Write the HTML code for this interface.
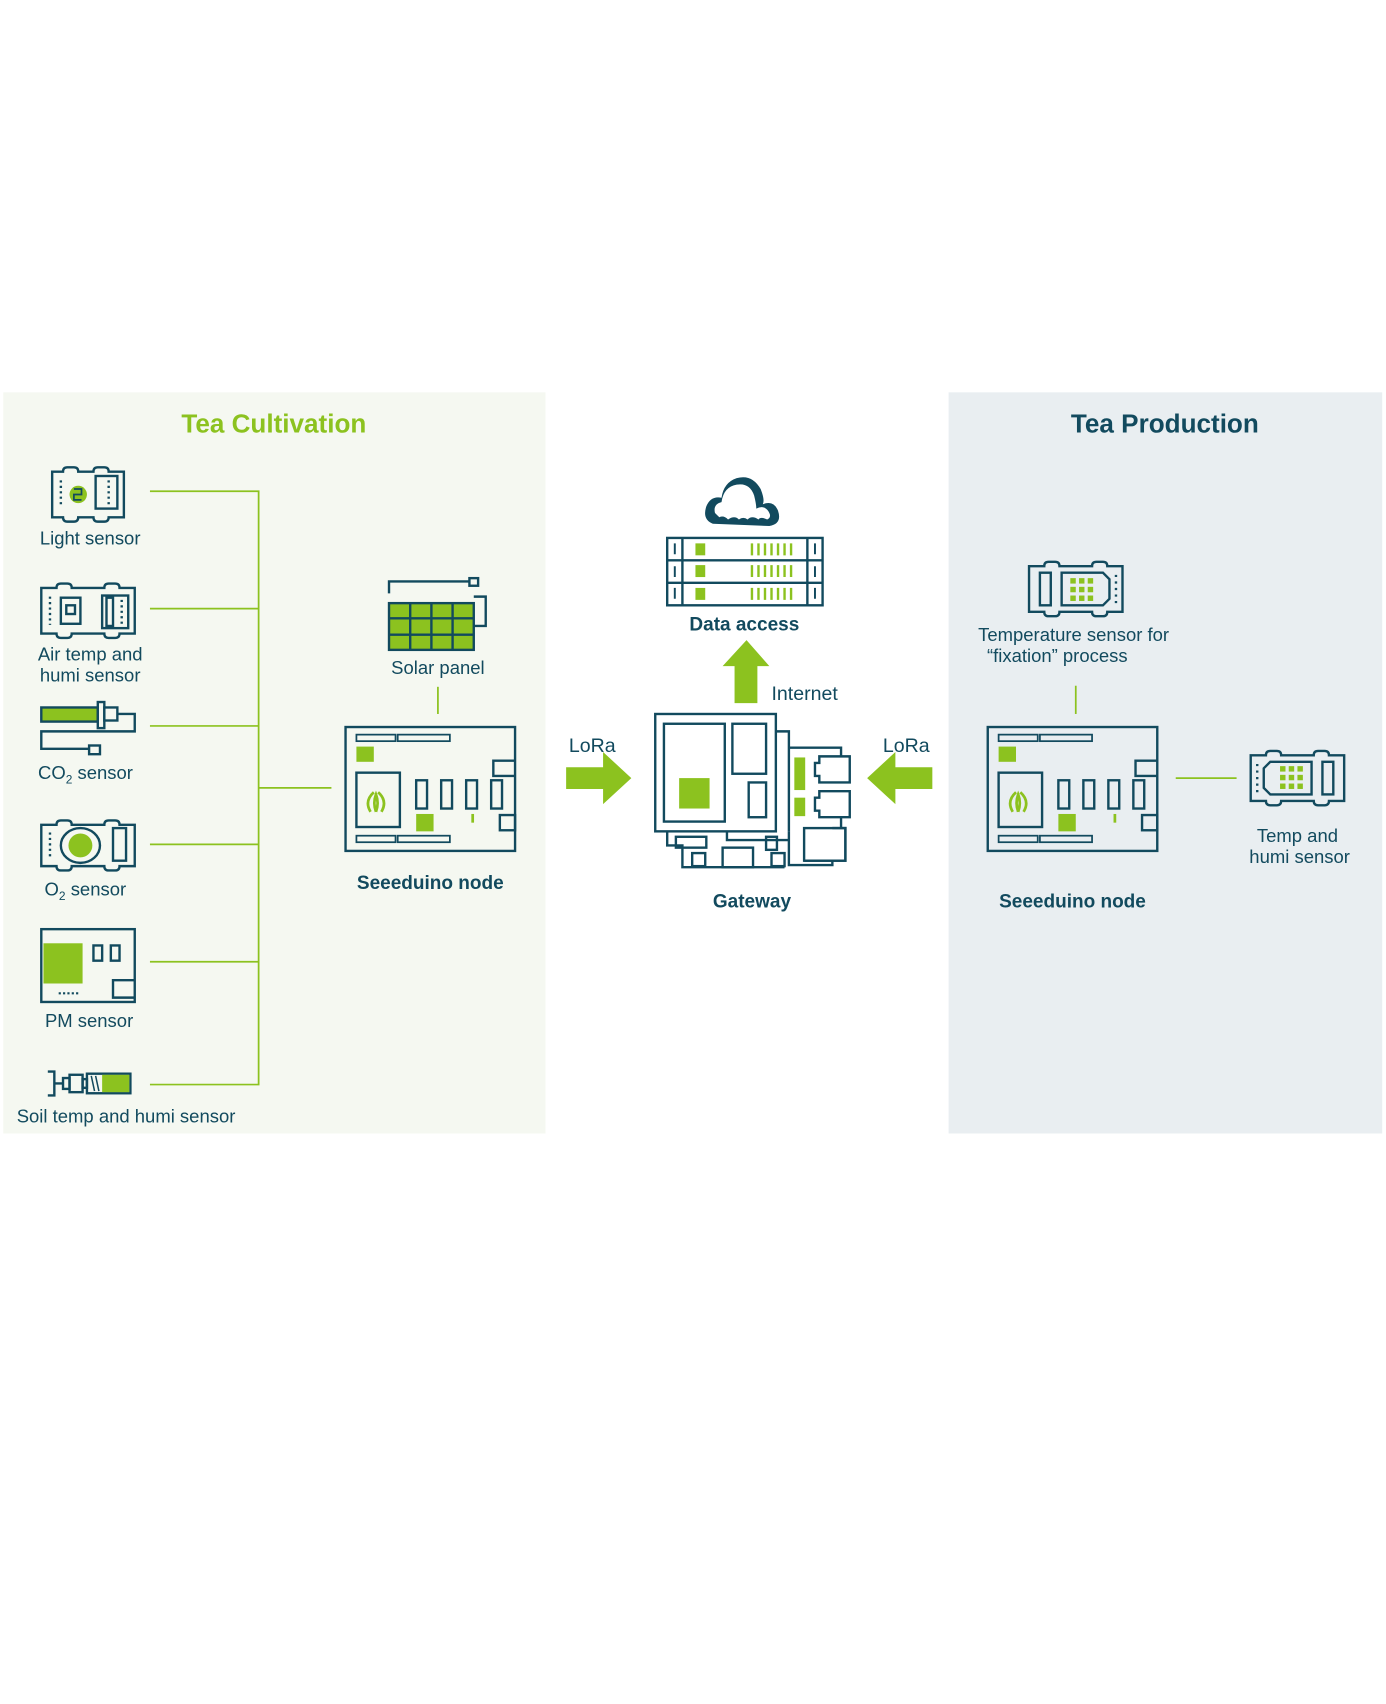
<!DOCTYPE html>
<html><head><meta charset="utf-8"><style>
html,body{margin:0;padding:0;background:#fff;}
svg{display:block;}
text{font-family:"Liberation Sans",sans-serif;}
</style></head><body>
<svg width="1386" height="1704" viewBox="0 0 1275.5 1568" preserveAspectRatio="none" xmlns="http://www.w3.org/2000/svg">
<defs>
<g id="node" fill="none" stroke="#124a5e" stroke-width="2.2">
  <rect x="0" y="0" width="156" height="114"/>
  <rect x="10" y="7" width="36" height="6" stroke-width="1.6"/>
  <rect x="48" y="7" width="48" height="6" stroke-width="1.6"/>
  <rect x="10" y="100" width="36" height="6" stroke-width="1.6"/>
  <rect x="48" y="100" width="48" height="6" stroke-width="1.6"/>
  <rect x="10" y="18" width="16" height="14" fill="#8cc21f" stroke="none"/>
  <rect x="10" y="42" width="40" height="50"/>
  <path d="M23 78 q-6 -10 3 -18 M33 78 q6 -10 -3 -18 M28 78 q-3 -8 0 -16 q3 8 0 16" stroke="#8cc21f" stroke-width="2.5"/>
  <rect x="65" y="49" width="10" height="26"/><rect x="88" y="49" width="10" height="26"/>
  <rect x="111" y="49" width="10" height="26"/><rect x="134" y="49" width="10" height="26"/>
  <rect x="65" y="80" width="16" height="16" fill="#8cc21f" stroke="none"/>
  <line x1="117" y1="80" x2="117" y2="88" stroke="#8cc21f" stroke-width="2.5"/>
  <path d="M156 31 h-20 v14 h20"/>
  <rect x="142" y="81" width="14" height="14"/>
</g>
<g id="sensorT" fill="none" stroke="#124a5e" stroke-width="2.2">
  <path d="M0 4 h14 q0 -4 4 -4 h6 q4 0 4 4 h30 q0 -4 4 -4 h6 q4 0 4 4 h14 v42 h-14 q0 4 -4 4 h-6 q-4 0 -4 -4 h-30 q0 4 -4 4 h-6 q-4 0 -4 -4 h-14z"/>
  <rect x="10" y="10" width="10" height="30"/>
  <path d="M30 10 h38 l6 6 v18 l-6 6 h-38z"/>
  <g fill="#8cc21f" stroke="none">
    <rect x="38" y="15" width="5" height="5"/><rect x="46" y="15" width="5" height="5"/><rect x="54" y="15" width="5" height="5"/>
    <rect x="38" y="23" width="5" height="5"/><rect x="46" y="23" width="5" height="5"/><rect x="54" y="23" width="5" height="5"/>
    <rect x="38" y="31" width="5" height="5"/><rect x="46" y="31" width="5" height="5"/><rect x="54" y="31" width="5" height="5"/>
  </g>
  <path d="M80 12 v26" stroke-dasharray="2 4"/>
</g>
</defs>

<rect x="3" y="361" width="499" height="682" fill="#f5f8f1"/>
<rect x="873" y="361" width="399" height="682" fill="#e9eef1"/>
<text x="252" y="398" font-size="24" font-weight="bold" fill="#8cc21f" text-anchor="middle">Tea Cultivation</text>
<text x="1072" y="398" font-size="24" font-weight="bold" fill="#124a5e" text-anchor="middle">Tea Production</text>

<g stroke="#8cc21f" stroke-width="1.6" fill="none">
  <path d="M138 452 H238 V998 H138"/>
  <path d="M138 560 H238 M138 668 H238 M138 777 H238 M138 885 H238 M238 725 H305"/>
  <path d="M403 632 V657"/>
  <path d="M990 631 V657"/>
  <path d="M1082 716 H1138"/>
</g>

<g fill="none" stroke="#124a5e" stroke-width="2.2">
<path d="M48 434 h10 q0 -4 4 -4 h6 q4 0 4 4 h14 q0 -4 4 -4 h6 q4 0 4 4 h14 v42 h-14 q0 4 -4 4 h-6 q-4 0 -4 -4 h-14 q0 4 -4 4 h-6 q-4 0 -4 -4 h-10z"/>
<rect x="88" y="438" width="20" height="30"/>
<circle cx="72" cy="455" r="8" fill="#8cc21f" stroke="none"/>
<path d="M68 450 h7 v5 h-7 v5 h7" stroke-width="1.6"/>
<path d="M56 442 v24 M100 442 v24" stroke-dasharray="2 3"/>
<path d="M38 541 h14 q0 -4 4 -4 h6 q4 0 4 4 h30 q0 -4 4 -4 h6 q4 0 4 4 h14 v42 h-14 q0 4 -4 4 h-6 q-4 0 -4 -4 h-30 q0 4 -4 4 h-6 q-4 0 -4 -4 h-14z"/>
<rect x="56" y="550" width="18" height="24"/><rect x="61" y="557" width="8" height="8"/>
<rect x="94" y="548" width="24" height="30"/><rect x="98" y="550" width="6" height="26"/>
<path d="M46 549 v26 M112 552 v24" stroke-dasharray="2 3"/>
<rect x="38" y="651" width="52" height="13" fill="#8cc21f"/>
<rect x="90" y="646" width="6" height="24"/>
<rect x="96" y="651" width="12" height="12"/>
<path d="M108 657 h16 v16 h-86 v16 h44"/>
<rect x="82" y="686" width="10" height="8"/>
<path d="M38 759 h14 q0 -4 4 -4 h6 q4 0 4 4 h30 q0 -4 4 -4 h6 q4 0 4 4 h14 v38 h-14 q0 4 -4 4 h-6 q-4 0 -4 -4 h-30 q0 4 -4 4 h-6 q-4 0 -4 -4 h-14z"/>
<ellipse cx="74" cy="778" rx="18" ry="16"/>
<circle cx="74" cy="778" r="11" fill="#8cc21f" stroke="none"/>
<rect x="104" y="762" width="12" height="30"/>
<path d="M46 766 v24" stroke-dasharray="2 3"/>
<rect x="38" y="855" width="86" height="67"/>
<rect x="40" y="868" width="36" height="37" fill="#8cc21f" stroke="none"/>
<rect x="86" y="870" width="8" height="14"/><rect x="102" y="870" width="8" height="14"/>
<path d="M124 902 h-20 v16 h20"/>
<path d="M54 914 h20" stroke-dasharray="2 2" stroke-width="2"/>
<path d="M44 986 h6 v22 h-6 M50 997 h8"/>
<rect x="58" y="992" width="6" height="10"/><rect x="64" y="989" width="12" height="16"/>
<rect x="76" y="993" width="4" height="8"/>
<rect x="80" y="988" width="40" height="18"/>
<rect x="94" y="989" width="25" height="16" fill="#8cc21f" stroke="none"/>
<path d="M84 990 l3 14 M88 990 l3 14" stroke-width="1.4"/>
<path d="M358 546 v-11 h74 M436 549 h11 v27 h-11"/>
<rect x="432" y="532" width="8" height="7"/>
<rect x="358" y="555" width="78" height="43" fill="#8cc21f"/>
<path d="M377.5 555 v43 M397 555 v43 M416.5 555 v43 M358 569 h78 M358 584 h78"/>
</g>

<g fill="#124a5e" font-size="17">
<text x="83" y="501" text-anchor="middle">Light sensor</text>
<text x="83" y="608" text-anchor="middle">Air temp and</text>
<text x="83" y="627" text-anchor="middle">humi sensor</text>
<text x="35" y="717">CO<tspan font-size="11" dy="4">2</tspan><tspan dy="-4">  sensor</tspan></text>
<text x="41" y="824">O<tspan font-size="11" dy="4">2</tspan><tspan dy="-4"> sensor</tspan></text>
<text x="82" y="945" text-anchor="middle">PM sensor</text>
<text x="116" y="1033" text-anchor="middle">Soil temp and humi sensor</text>
<text x="403" y="620" text-anchor="middle">Solar panel</text>
<text x="545" y="692" text-anchor="middle" font-size="18">LoRa</text>
<text x="834" y="692" text-anchor="middle" font-size="18">LoRa</text>
<text x="710" y="644" font-size="18">Internet</text>
<text x="988" y="590" text-anchor="middle">Temperature sensor for</text>
<text x="973" y="609" text-anchor="middle">“fixation”   process</text>
<text x="1194" y="775" text-anchor="middle">Temp and</text>
<text x="1196" y="794" text-anchor="middle">humi sensor</text>
</g>
<g fill="#124a5e" font-size="17.5" font-weight="bold" text-anchor="middle">
<text x="396" y="818">Seeeduino node</text>
<text x="987" y="835">Seeeduino node</text>
<text x="692" y="835">Gateway</text>
<text x="685" y="580">Data access</text>
</g>

<use href="#node" transform="translate(318,669)"/>
<use href="#node" transform="translate(909,669)"/>
<use href="#sensorT" transform="translate(947,517)"/>
<use href="#sensorT" transform="translate(1237,741) rotate(180)"/>

<path d="M521 706 h34 v-14 l26 24 l-26 24 v-14 h-34z" fill="#8cc21f"/>
<path d="M858 706 h-34 v-14 l-26 24 l26 24 v-14 h34z" fill="#8cc21f"/>
<path d="M676 647 v-34 h-11 l22 -24 l21 24 h-11 v34z" fill="#8cc21f"/>

<path d="M656 482 q-10 -4 -6 -16 q4 -10 14 -8 q2 -14 14 -18 q14 -4 22 10 q4 10 2 14 q10 -4 14 6 q4 12 -8 14 z" fill="#124a5e"/>
<path d="M658 472 q-2 -8 6 -10 q2 -14 14 -16 q12 -2 16 10 q2 8 2 12 q8 -4 12 4 q2 4 -2 6 q-6 -3 -8 0 q-6 -4 -10 0 q-4 -3 -8 0 q-4 -4 -10 0 q-4 -4 -8 -2 q-2 -2 -4 -4z" fill="#fff"/>

<g fill="none" stroke="#124a5e" stroke-width="2.2">
<rect x="614" y="495" width="143" height="62"/>
<path d="M614 515.6 h143 M614 536.3 h143 M628 495 v62 M743 495 v62"/>
<path d="M621 500 v10 M621 521 v10 M621 541 v10 M750 500 v10 M750 521 v10 M750 541 v10" stroke-width="1.8"/>
</g>
<g fill="#8cc21f">
<rect x="640" y="500" width="9" height="11"/><rect x="640" y="520" width="9" height="11"/><rect x="640" y="541" width="9" height="11"/>
</g>
<g stroke="#8cc21f" stroke-width="2.2">
<path d="M692 500 v11 M698 500 v11 M704 500 v11 M710 500 v11 M716 500 v11 M722 500 v11 M728 500 v11"/>
<path d="M692 520 v11 M698 520 v11 M704 520 v11 M710 520 v11 M716 520 v11 M722 520 v11 M728 520 v11"/>
<path d="M692 541 v11 M698 541 v11 M704 541 v11 M710 541 v11 M716 541 v11 M722 541 v11 M728 541 v11"/>
</g>

<g fill="none" stroke="#124a5e" stroke-width="2.2">
<path d="M714 673 h12 v92"/>
<path d="M726 688 h48 v8"/>
<path d="M774 752 v10 M766 762 h12 v30 h-38 M766 792 v4 h-40 v-31"/>
<rect x="740" y="762" width="38" height="30"/>
<path d="M669 765 v8 h57"/>
<rect x="603" y="657" width="111" height="108"/>
<rect x="611" y="666" width="56" height="90"/>
<rect x="674" y="666" width="31" height="46"/>
<rect x="689" y="720" width="16" height="32"/>
<path d="M614 765 v13 h14 v20 h94"/>
<rect x="622" y="770" width="28" height="10"/>
<rect x="665" y="780" width="28" height="18"/>
<rect x="637" y="785" width="12" height="12"/>
<rect x="705" y="770" width="10" height="12"/>
<rect x="710" y="785" width="12" height="12"/>
<path d="M754 696 h28 v24 h-28 v-6 h-4 v-12 h4z"/>
<path d="M754 728 h28 v24 h-28 v-6 h-4 v-12 h4z"/>
</g>
<rect x="625" y="716" width="28" height="28" fill="#8cc21f"/>
<rect x="731" y="697" width="10" height="30" fill="#8cc21f"/>
<rect x="731" y="734" width="10" height="17" fill="#8cc21f"/>
</svg>
</body></html>
